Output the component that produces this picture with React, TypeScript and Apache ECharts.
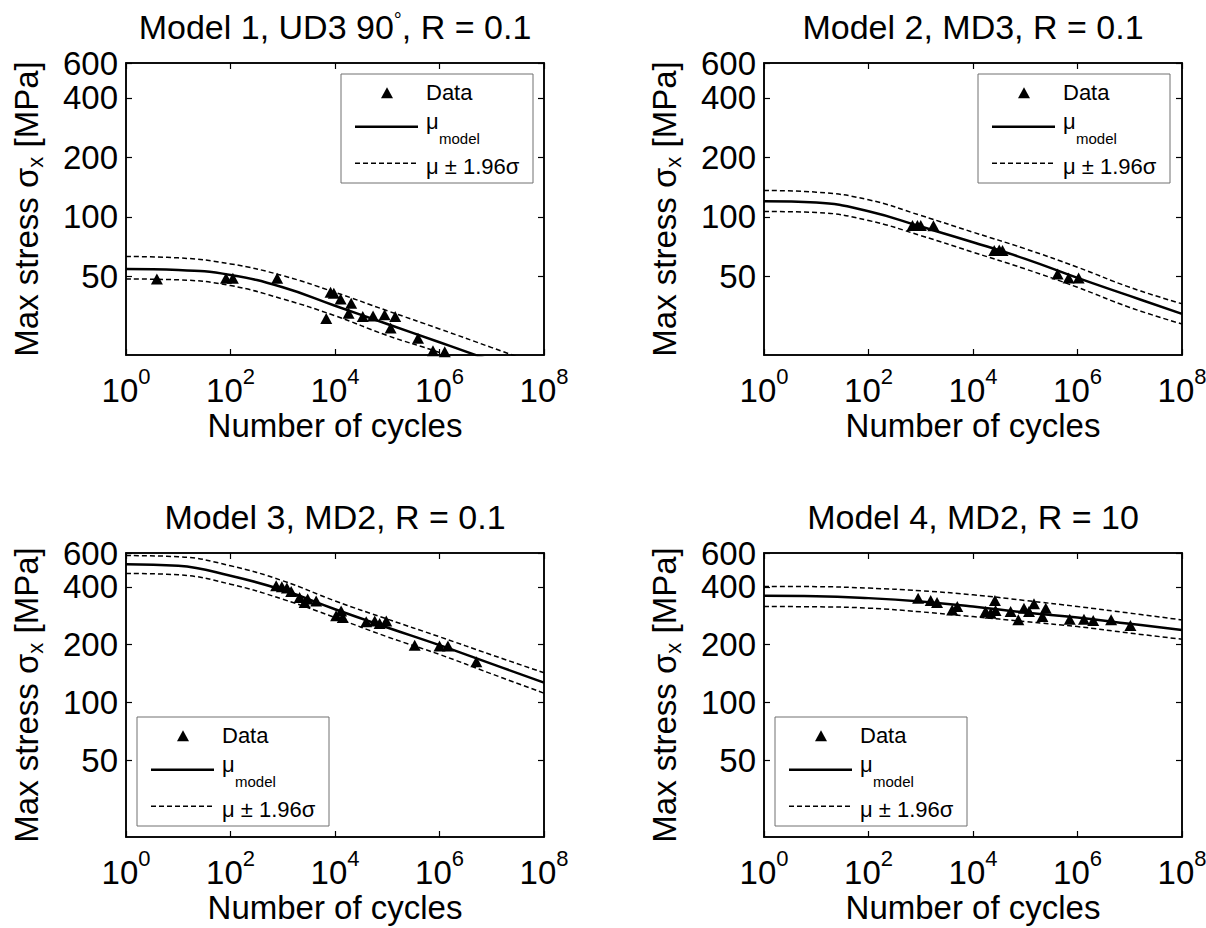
import React, { useEffect, useRef } from "react";
import * as echarts from "echarts";

const FONT = '"Liberation Sans", Arial, Helvetica, sans-serif';

// ---------- text ----------
const TITLES = [
  "Model 1, UD3 90{d|°}, R = 0.1",
  "Model 2, MD3, R = 0.1",
  "Model 3, MD2, R = 0.1",
  "Model 4, MD2, R = 10",
];
const X_NAME = "Number of cycles";
const Y_NAME = "{a|Max stress σ}{b|x}{a| [MPa]}";
const LEGEND_LABELS = ["Data", "μ", "model", "μ ± 1.96σ"];

// ---------- axes ----------
const X_MIN = 1;
const X_MAX = 1e8;
const X_EXPONENT_STEP = 2;
const Y_MIN = 20;
const Y_MAX = 600;
const Y_TICKS = [50, 100, 200, 400, 600];

// ---------- curves (read at each decade) ----------
const DECADES = [1, 1e1, 1e2, 1e3, 1e4, 1e5, 1e6, 1e7, 1e8];

// Model 1
const P1_DATA_N = [3.9, 82, 111, 782, 8220, 9500, 12800, 20400, 6800, 18200, 34000, 53500, 89000, 142000, 116000, 388000, 750000, 1260000];
const P1_DATA_S = [48.5, 48.9, 48.9, 48.9, 41.5, 41.0, 38.4, 36.5, 30.6, 32.5, 31.3, 31.5, 32.0, 31.3, 27.4, 24.3, 21.0, 20.8];
const P1_MEAN = [54.5, 53.9, 50.8, 44.0, 35.5, 28.7, 23.2, 18.7];
const P1_UPPER = [63.0, 62.0, 57.8, 50.4, 41.5, 33.5, 27.1, 21.8, 17.5];
const P1_LOWER = [48.5, 48.0, 44.9, 38.4, 31.6, 25.1, 20.6, 16.5];

// Model 2
const P2_DATA_N = [694, 864, 1000, 1750, 25500, 31800, 36700, 416000, 676000, 1050000];
const P2_DATA_S = [90.4, 90.4, 90.4, 90.0, 67.5, 67.9, 67.5, 51.4, 49.1, 49.1];
const P2_MEAN = [120.0, 118.2, 106.8, 89.3, 74.4, 61.3, 49.1, 39.8, 32.3];
const P2_UPPER = [135.9, 133.3, 122.0, 101.6, 83.6, 68.9, 55.6, 44.0, 36.3];
const P2_LOWER = [106.4, 105.2, 95.8, 80.4, 66.2, 54.5, 44.0, 34.8, 28.7];

// Model 3
const P3_DATA_N = [748, 961, 1200, 1450, 2100, 2620, 3000, 4360, 10500, 13100, 14100, 39600, 57600, 71500, 95800, 335000, 1000000, 1450000, 5070000];
const P3_DATA_S = [405, 400, 394, 378, 352, 331.6, 345.4, 338, 282.6, 300, 276.8, 263, 266, 257.6, 266, 198.8, 197.1, 197, 163.2];
const P3_MEAN = [525, 515, 457, 385, 306, 246, 199, 159, 127];
const P3_UPPER = [582, 574, 515, 430, 338, 272, 220, 177, 143];
const P3_LOWER = [470, 462, 413, 345, 277, 220, 178, 141, 112];

// Model 4
const P4_DATA_N = [890, 1550, 2050, 4000, 5000, 17400, 21800, 27000, 26300, 52500, 73700, 94500, 118000, 147000, 213000, 247000, 710000, 1330000, 2000000, 4400000, 10300000];
const P4_DATA_S = [349.5, 339.6, 331.6, 303.6, 316, 297.6, 291.9, 301.2, 339.6, 297.6, 269.4, 310, 297.6, 326.3, 280.2, 310, 271.6, 271.6, 267.1, 269.4, 251.5];
const P4_MEAN = [359.4, 357.9, 349.5, 335.5, 316, 294, 276.8, 257, 238.8];
const P4_UPPER = [401.8, 401, 394, 381.5, 363.7, 339.6, 316, 292, 269.3];
const P4_LOWER = [316, 315, 310, 296.5, 280.2, 263.9, 248.5, 230, 213.6];

const PANELS = [
  { n: P1_DATA_N, s: P1_DATA_S, mean: P1_MEAN, upper: P1_UPPER, lower: P1_LOWER },
  { n: P2_DATA_N, s: P2_DATA_S, mean: P2_MEAN, upper: P2_UPPER, lower: P2_LOWER },
  { n: P3_DATA_N, s: P3_DATA_S, mean: P3_MEAN, upper: P3_UPPER, lower: P3_LOWER },
  { n: P4_DATA_N, s: P4_DATA_S, mean: P4_MEAN, upper: P4_UPPER, lower: P4_LOWER },
];

// ---------- layout ----------
const GRIDS = [
  { left: 126, top: 63, width: 418, height: 292 },
  { left: 764, top: 63, width: 418, height: 292 },
  { left: 126, top: 553, width: 418, height: 284 },
  { left: 764, top: 553, width: 418, height: 284 },
];
const TITLE_POS = [
  [335, 27],
  [973, 27],
  [335, 517],
  [973, 517],
];
const LEGEND_POS = [
  [341, 74],
  [978, 74],
  [137, 717],
  [775, 717],
];

const lg = Math.log10;
const toPts = (ns: number[], vs: number[]) => vs.map((v, i) => [lg(ns[i]), lg(v)]);

function buildOption(): any {
  const grid: any[] = [];
  const xAxis: any[] = [];
  const yAxis: any[] = [];
  const series: any[] = [];
  const graphic: any[] = [];
  const yTickVals = Y_TICKS.map(lg);
  const black = "#000";
  const axisLine = { show: true, onZero: false, lineStyle: { color: black, width: 1.5 } };
  const axisTickBase = { show: true, inside: true, length: 6, lineStyle: { color: black, width: 1.2 } };

  PANELS.forEach((p, i) => {
    grid.push({
      ...GRIDS[i],
      show: true,
      borderColor: black,
      borderWidth: 1.5,
      backgroundColor: "#fff",
      containLabel: false,
      outerBoundsMode: "none",
    });
    const xCommon = {
      type: "value",
      gridIndex: i,
      min: lg(X_MIN),
      max: lg(X_MAX),
      interval: X_EXPONENT_STEP,
      splitLine: { show: false },
      axisLine,
      axisTick: axisTickBase,
    };
    xAxis.push({
      ...xCommon,
      position: "bottom",
      axisLabel: {
        show: true,
        margin: 10,
        formatter: (v: number) => `{b|10}{s|${Math.round(v)}}`,
        rich: {
          b: { fontSize: 33, lineHeight: 50, fontFamily: FONT, color: black },
          s: { fontSize: 22, lineHeight: 22, verticalAlign: "top", fontFamily: FONT, color: black },
        },
      },
      name: X_NAME,
      nameLocation: "middle",
      nameGap: 54,
      nameMoveOverlap: false,
      nameTextStyle: { fontSize: 33, fontFamily: FONT, color: black },
    });
    xAxis.push({ ...xCommon, position: "top", axisLabel: { show: false } });

    const yCommon = {
      type: "value",
      gridIndex: i,
      min: lg(Y_MIN),
      max: lg(Y_MAX),
      splitLine: { show: false },
      axisLine,
      axisTick: { ...axisTickBase, customValues: yTickVals },
    };
    yAxis.push({
      ...yCommon,
      position: "left",
      axisLabel: {
        show: true,
        margin: 8,
        customValues: yTickVals,
        formatter: (v: number) => String(Math.round(Math.pow(10, v))),
        fontSize: 33,
        fontFamily: FONT,
        color: black,
      },
      name: Y_NAME,
      nameLocation: "middle",
      nameRotate: 90,
      nameGap: 80,
      nameMoveOverlap: false,
      nameTextStyle: {
        fontFamily: FONT,
        color: black,
        rich: {
          a: { fontSize: 33, lineHeight: 40, fontFamily: FONT, color: black },
          b: { fontSize: 22, lineHeight: 22, verticalAlign: "bottom", fontFamily: FONT, color: black },
        },
      },
    });
    yAxis.push({ ...yCommon, position: "right", axisLabel: { show: false } });

    const ax = { xAxisIndex: 2 * i, yAxisIndex: 2 * i };
    const band = { type: [5, 3], width: 1.5, color: black };
    series.push({
      type: "line",
      ...ax,
      data: toPts(DECADES, p.upper),
      smooth: 0.45,
      showSymbol: false,
      lineStyle: band,
      z: 2,
      silent: true,
    });
    series.push({
      type: "line",
      ...ax,
      data: toPts(DECADES, p.lower),
      smooth: 0.45,
      showSymbol: false,
      lineStyle: band,
      z: 2,
      silent: true,
    });
    series.push({
      type: "line",
      ...ax,
      data: toPts(DECADES, p.mean),
      smooth: 0.45,
      showSymbol: false,
      lineStyle: { width: 2.5, color: black, type: "solid" },
      z: 3,
      silent: true,
    });
    series.push({
      type: "scatter",
      ...ax,
      data: toPts(p.n, p.s),
      symbol: "triangle",
      symbolSize: [12, 11],
      itemStyle: { color: black, opacity: 1 },
      z: 4,
      silent: true,
    });

    graphic.push({
      type: "text",
      x: TITLE_POS[i][0],
      y: TITLE_POS[i][1],
      style: {
        text: TITLES[i],
        fontSize: 34,
        fontFamily: FONT,
        fill: black,
        align: "center",
        verticalAlign: "middle",
        rich: { d: { fontSize: 20, verticalAlign: "top", fontFamily: FONT, fill: black } },
      },
    });

    const ts = { fontSize: 22, fontFamily: FONT, fill: black, verticalAlign: "middle", align: "left" };
    graphic.push({
      type: "group",
      x: LEGEND_POS[i][0],
      y: LEGEND_POS[i][1],
      z: 10,
      children: [
        { type: "rect", shape: { x: 0, y: 0, width: 192, height: 109 }, style: { fill: "#fff", stroke: "#707070", lineWidth: 1 } },
        { type: "polygon", shape: { points: [[40, 24.2], [52, 24.2], [46, 13.2]] }, style: { fill: black } },
        { type: "text", x: 85, y: 18.7, style: { ...ts, text: LEGEND_LABELS[0] } },
        { type: "line", shape: { x1: 14, y1: 52.7, x2: 77, y2: 52.7 }, style: { stroke: black, lineWidth: 2.5 } },
        { type: "text", x: 85, y: 47.6, style: { ...ts, text: LEGEND_LABELS[1] } },
        { type: "text", x: 98, y: 64, style: { ...ts, fontSize: 15, text: LEGEND_LABELS[2] } },
        { type: "line", shape: { x1: 14, y1: 89.3, x2: 77, y2: 89.3 }, style: { stroke: black, lineWidth: 1.5, lineDash: [5, 3] } },
        { type: "text", x: 85, y: 92.7, style: { ...ts, text: LEGEND_LABELS[3] } },
      ],
    });
  });

  return {
    animation: false,
    backgroundColor: "#fff",
    grid,
    xAxis,
    yAxis,
    series,
    graphic,
  };
}

export default function App() {
  const ref = useRef<HTMLDivElement>(null);
  useEffect(() => {
    if (!ref.current) return;
    const chart = echarts.init(ref.current, null, { renderer: "svg" });
    chart.setOption(buildOption());
    return () => chart.dispose();
  }, []);
  return (
    <div
      ref={ref}
      style={{ position: "absolute", left: 0, top: 0, width: 1206, height: 928, background: "#fff" }}
    />
  );
}
